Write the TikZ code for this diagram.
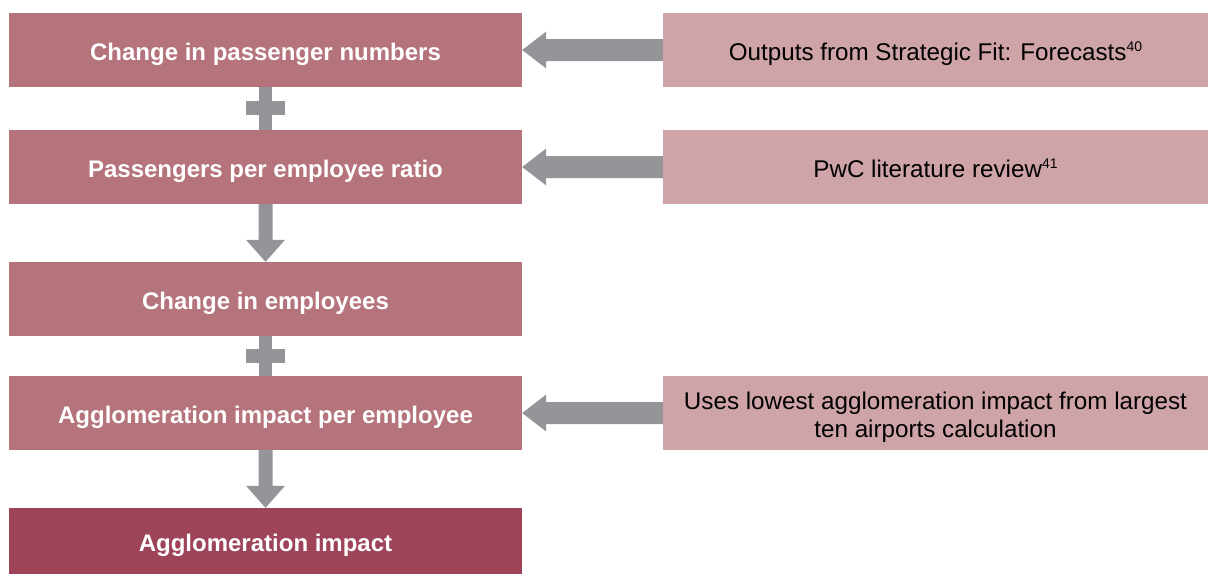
\documentclass[tikz,border=0pt]{standalone}
\usepackage{fontspec}
\setmainfont{Liberation Sans}
\usetikzlibrary{calc}
\definecolor{boxred}{HTML}{B5747B}
\definecolor{darkred}{HTML}{9E4459}
\definecolor{pinkbox}{HTML}{CFA4A8}
\definecolor{arrgray}{HTML}{939598}
\tikzset{
  leftbox/.style={fill=boxred, minimum width=513pt, minimum height=74pt, inner sep=0pt,
    text=white, font=\fontsize{24}{28}\selectfont\bfseries, text height=20pt, text depth=0pt},
  finalbox/.style={leftbox, fill=darkred, minimum height=66pt},
  srcbox/.style={fill=pinkbox, minimum width=545pt, minimum height=74pt, inner sep=0pt,
    text=black, align=center, font=\fontsize{24.2}{28.5}\selectfont, text height=20pt, text depth=0pt},
  arr/.style={fill=arrgray}
}
\newcommand{\sups}[1]{\raisebox{9pt}{\fontsize{14}{14}\selectfont #1}}
\begin{document}
\begin{tikzpicture}[x=1pt,y=-1pt]
\useasboundingbox (0,0) rectangle (1208,574);
\node[leftbox] (b1) at (265.5,50) {Change in passenger numbers};
\node[leftbox] (b2) at (265.5,167) {Passengers per employee ratio};
\node[leftbox] (b3) at (265.5,299) {Change in employees};
\node[leftbox] (b4) at (265.5,413) {Agglomeration impact per employee};
\node[finalbox] (b5) at (265.5,541) {Agglomeration impact};
\node[srcbox] (r1) at (935.5,50) {Outputs from Strategic Fit: Forecasts\sups{40}};
\node[srcbox] (r2) at (935.5,167) {PwC literature review\sups{41}};
\node[srcbox, text height=, text depth=] (r4) at (935.5,413) {};
\node[srcbox, text height=, text depth=, fill=none, minimum width=0pt, minimum height=0pt]
  (r4t) at ([yshift=-4pt]r4.center) {Uses lowest agglomeration impact from largest\\ten airports calculation};
% horizontal block arrows
\foreach \s/\t in {r1/b1, r2/b2, r4/b4}{
  \fill[arr] (\t.east) -- ++(24,-18.5) -- ++(0,7.5) -- ($(\s.west)+(0,-11)$)
    -- ($(\s.west)+(0,11)$) -- ($(\t.east)+(24,11)$) -- ++(0,7.5) -- cycle;
}
% plus signs
\foreach \a/\b in {b1/b2, b3/b4}{
  \fill[arr] ($(\a.south)+(-6.5,0)$) rectangle ($(\b.north)+(6.5,0)$);
  \fill[arr] ($(\a.south)!0.5!(\b.north)+(-19.5,-7.5)$) rectangle ++(39,14);
}
% down block arrows
\foreach \a/\b in {b2/b3, b4/b5}{
  \fill[arr] (\b.north) -- ++(-19.5,-22) -- ++(12.5,0) -- ($(\a.south)+(-7,0)$)
    -- ($(\a.south)+(7,0)$) -- ($(\b.north)+(7,-22)$) -- ++(12.5,0) -- cycle;
}
\end{tikzpicture}
\end{document}
